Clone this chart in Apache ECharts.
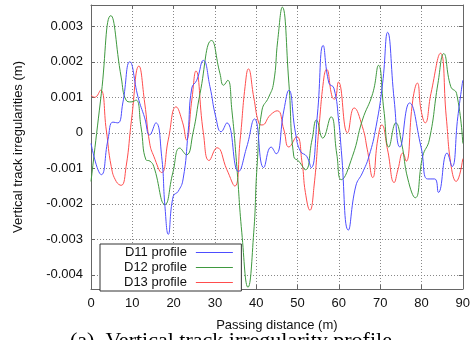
<!DOCTYPE html>
<html>
<head>
<meta charset="utf-8">
<script src="https://cdn.jsdelivr.net/npm/echarts@6/dist/echarts.min.js"></script>
<style>
  html, body { margin: 0; padding: 0; background: #fff; }
  #chart { width: 473px; height: 340px; }
</style>
</head>
<body>
<div id="chart"></div>
<script>
// distance (m), irregularity (m)
const d11 = [[0,-0.0003],[2.5,-0.00118],[4.1,-0.0002],[5.3,0.0003],[6.5,0.00028],[7.7,0.00084],[9.4,0.002],
  [11.4,0.001],[13,0.00042],[14.2,-0.00006],[15.7,0.00028],[17.1,-0.00066],[17.9,-0.00207],[18.7,-0.00286],
  [19.9,-0.00179],[21.1,-0.00165],[22.3,-0.0013],[23.5,0],[24.4,0.00126],[25.6,0.00148],[27.2,0.00204],
  [28.8,0.0013],[30.2,0.00045],[31.5,0.00003],[32.9,0.00028],[35.7,-0.00109],[37.7,-0.0004],[39.6,0.00039],
  [41.8,-0.00098],[43.6,-0.0004],[44.8,-0.00059],[46.7,0.00064],[47.9,0.0012],[49.5,0],[50.7,-0.00052],
  [52.2,-0.00066],[53.3,-0.00098],[54.8,0.0005],[56.2,0.00246],[57.6,0.0014],[58.8,0.00126],[60,0.0003],
  [60.6,-0.0005],[62.3,-0.00274],[64.1,-0.0015],[65.7,-0.00113],[67.3,-0.00066],[69,0.00017],[70.6,0.0014],
  [71.8,0.00283],[73.4,0.00092],[74.8,-0.0004],[77.1,0.00084],[79.9,-0.0004],[81.5,-0.0013],[83.2,-0.0013],
  [84.1,-0.00168],[86.2,-0.00057],[87.4,-0.00095],[88.8,0.00045],[90,0.00148]];
const d12 = [[0,-0.00137],[2.5,0.0011],[4.8,0.0033],[7.3,0.00157],[8.5,0.00092],[9.7,0.00087],[10.9,0.00092],
  [12.1,0.00017],[13.3,-0.00076],[14.3,-0.0008],[15.2,-0.00095],[17.9,-0.00202],[19.8,-0.00113],[21.5,-0.00043],
  [23.1,-0.00062],[24.7,0],[26.4,0.00111],[29.2,0.0026],[31.2,0.00168],[32.1,0.00134],[33.1,0.00148],
  [34.1,0.00064],[35.3,-0.00095],[36.5,-0.0028],[38,-0.00435],[39.4,-0.0028],[40.2,-0.00095],[41.4,0.00064],
  [43,0.001],[44.2,0.0014],[45.2,0.0026],[46.3,0.00354],[47.9,0.0014],[49.1,-0.00067],[50.3,-0.0008],
  [51.9,-0.00104],[53.5,-0.0002],[54.6,0.00036],[56.1,-0.00015],[58.1,0.00045],[59.5,-0.0006],[60.6,-0.00132],
  [63.3,-0.00066],[65.7,0.00036],[68.2,0.00111],[69.6,0.0019],[70.9,0.00064],[72.1,-0.0004],[73.8,0.00028],
  [75.2,-0.0003],[76.7,-0.0013],[78.5,-0.00183],[80.3,-0.00066],[81.9,-0.0002],[84,0.0014],[85.4,0.00223],
  [87.1,0.0013],[88.5,0.00111],[90,-0.0003]];
const d13 = [[0,0.00106],[0.9,0.001],[2.3,0.0012],[3.7,0.00008],[4.9,-0.00095],[6.1,-0.00137],[7.3,-0.00148],
  [8.5,-0.00095],[9.8,0.00036],[11.6,0.00188],[13,0.00084],[14.2,-0.00029],[15.2,-0.00066],[17.1,-0.00112],
  [18.7,-0.0002],[20.6,0.00073],[22.2,0.00028],[23.1,-0.0002],[24.4,0.00092],[25.4,0.00174],[27.2,0],
  [28.6,-0.00078],[30.5,-0.00042],[32.9,-0.00104],[34.8,-0.0015],[36.1,-0.0002],[37.3,0.0013],[38.1,0.0018],
  [39.4,0.001],[40.6,0.00028],[41.4,0.00022],[43.4,0.0005],[45.1,0.00062],[46.7,0.00008],[47.9,-0.0004],
  [49.8,-0.00011],[51.1,-0.00084],[51.9,-0.00168],[53,-0.00218],[54,-0.0015],[55.2,0.00017],[56.4,0.00157],
  [57,0.00179],[58.4,0.001],[59,0.00095],[59.9,0.00143],[62.1,0],[63.7,0.0007],[65.7,0.00017],[66.9,-0.00048],
  [68.2,-0.00126],[69.4,-0.0002],[70.4,0.00022],[71.8,-0.00048],[73.4,-0.0014],[74.3,-0.00104],[75.5,-0.00057],
  [76.3,-0.0008],[77.9,0.00092],[79,0.0014],[79.9,0.00064],[80.9,0.00028],[82.3,0.00111],[84.6,0.00224],
  [86,0.00045],[87.2,-0.00095],[88.4,-0.00137],[90,-0.00073]];

const yTicks = [-0.004, -0.003, -0.002, -0.001, 0, 0.001, 0.002, 0.003];
const names = ['D11 profile', 'D12 profile', 'D13 profile'];
const colors = ['#4d4dff', '#3f993f', '#ff4d4d'];

const font = 'Liberation Sans';
const frame = { show: true, onZero: false, lineStyle: { color: '#666', width: 1 } };
const grid = { show: true, lineStyle: { color: '#888', type: [1, 2], width: 1 } };

let chart = echarts.init(document.getElementById('chart'));
chart.setOption({
  animation: false,
  grid: { left: 91, right: 9, top: 5, bottom: 51 },
  legend: {
    data: names,
    orient: 'vertical',
    align: 'right',
    left: 100,
    top: 244,
    itemWidth: 37,
    itemHeight: 12,
    itemGap: 2,
    padding: [2, 8, 2, 24],
    itemStyle: { opacity: 0 },
    lineStyle: { width: 1 },
    backgroundColor: '#fff',
    borderColor: '#333',
    borderWidth: 1,
    textStyle: { fontFamily: font, fontSize: 13, color: '#111', padding: [0, 4, 0, 0] }
  },
  xAxis: [
    {
      type: 'value', min: 0, max: 90, interval: 10,
      name: 'Passing distance (m)', nameLocation: 'middle', nameGap: 30,
      nameTextStyle: { fontFamily: font, fontSize: 13, color: '#111' },
      axisLine: frame,
      axisTick: { inside: true, length: 4, lineStyle: { color: '#666' } },
      axisLabel: { fontFamily: font, fontSize: 13, color: '#111', margin: 8 },
      splitLine: grid
    },
    {
      type: 'value', min: 0, max: 90, interval: 10, position: 'top',
      axisLine: frame,
      axisTick: { inside: true, length: 4, lineStyle: { color: '#666' } },
      axisLabel: { show: false }, splitLine: { show: false }
    }
  ],
  yAxis: [
    {
      type: 'value', min: -0.0044, max: 0.0036,
      name: 'Vertical track irregularities (m)', nameLocation: 'middle', nameGap: 66,
      nameTextStyle: { fontFamily: font, fontSize: 13, color: '#111' },
      axisLine: frame,
      axisTick: { inside: true, length: 4, lineStyle: { color: '#666' }, customValues: yTicks },
      axisLabel: {
        fontFamily: font, fontSize: 13, color: '#111', margin: 8,
        customValues: yTicks,
        formatter: v => (Math.abs(v) < 1e-9 ? '0' : v.toFixed(3))
      },
      splitLine: grid
    },
    {
      type: 'value', min: -0.0044, max: 0.0036, position: 'right',
      axisLine: frame,
      axisTick: { inside: true, length: 4, lineStyle: { color: '#666' }, customValues: yTicks },
      axisLabel: { show: false, customValues: yTicks }, splitLine: { show: false }
    }
  ],
  graphic: [
    {
      type: 'text', left: 70, top: 330,
      style: { text: '(a)  Vertical track irregularity profile', fontFamily: 'Liberation Serif', fontSize: 22, fill: '#000' }
    }
  ],
  series: [d11, d12, d13].map((d, i) => ({
    name: names[i],
    type: 'line',
    data: d,
    smooth: 0.5,
    symbol: 'none',
    color: colors[i],
    lineStyle: { width: 1, color: colors[i] },
    z: 3 - i
  }))
});
</script>
</body>
</html>
